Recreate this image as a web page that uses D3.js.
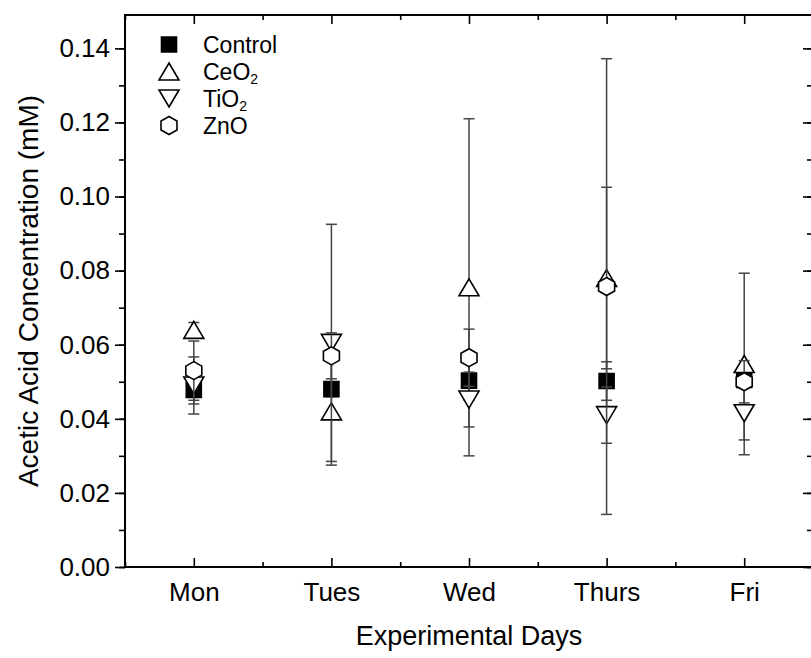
<!DOCTYPE html>
<html>
<head>
<meta charset="utf-8">
<script src="https://cdn.jsdelivr.net/npm/d3@7"></script>
<style>
  html, body { margin: 0; padding: 0; background: #fff; }
  svg { display: block; font-family: "Liberation Sans", Arial, sans-serif; }
</style>
</head>
<body>
<svg id="chart" width="811" height="658"></svg>
<script>
// ---------------- data ----------------
const days = ["Mon", "Tues", "Wed", "Thurs", "Fri"];
const yTicks = [0.00, 0.02, 0.04, 0.06, 0.08, 0.10, 0.12, 0.14];

const control    = [0.0478, 0.0480, 0.0503, 0.0502, 0.0505];
const controlErr = [0.0038, 0.0020, 0.0053, 0.0052, 0.0020];
const ceo2       = [0.0640, 0.0420, 0.0755, 0.0780, 0.0548];
const ceo2Err    = [0.0020, 0.0145, 0.0455, 0.0245, 0.0245];
const tio2       = [0.0490, 0.0605, 0.0452, 0.0410, 0.0415];
const tio2Err    = [0.0077, 0.0320, 0.0074, 0.0076, 0.0072];
const zno        = [0.0530, 0.0570, 0.0565, 0.0757, 0.0500];
const znoErr     = [0.0080, 0.0062, 0.0077, 0.0615, 0.0057];

const seriesNames = ["Control", "CeO2", "TiO2", "ZnO"];

(function () {
const svg = d3.select("#chart");
const mL = 125, mR = 813, mT = 15, mB = 567;

const x = d3.scaleLinear().domain([0.5, days.length + 0.5]).range([mL, mR]);
const y = d3.scaleLinear().domain([0, 0.149]).range([mB, mT]);

const series = [
  { name: seriesNames[0], vals: control, errs: controlErr, shape: "square" },
  { name: seriesNames[1], vals: ceo2,    errs: ceo2Err,    shape: "up" },
  { name: seriesNames[2], vals: tio2,    errs: tio2Err,    shape: "down" },
  { name: seriesNames[3], vals: zno,     errs: znoErr,     shape: "hex" }
];

function shapePath(shape) {
  switch (shape) {
    case "square": return "M-7.5,-7.5H7.5V7.5H-7.5Z";
    case "up":     return "M0,-8.5L10,8.5L-10,8.5Z";
    case "down":   return "M0,8.5L10,-8.5L-10,-8.5Z";
    case "hex":    return "M0,-9L8,-4.5L8,4.5L0,9L-8,4.5L-8,-4.5Z";
  }
}
function shapeFill(shape) { return shape === "square" ? "#000" : "#fff"; }

// ---------------- axes ----------------
const minorY = d3.range(0, 0.1491, 0.01);
const majorX = days.map((d, i) => i + 1);
const minorX = d3.range(0.5, days.length + 0.51, 1);

const gL = svg.append("g").attr("transform", `translate(${mL},0)`);
gL.call(d3.axisLeft(y).tickValues(minorY).tickSize(6).tickSizeOuter(0).tickFormat(""));
gL.call(g => g.select(".domain").remove());
const gL2 = svg.append("g").attr("transform", `translate(${mL},0)`);
gL2.call(d3.axisLeft(y).tickValues(yTicks).tickSize(10).tickSizeOuter(0).tickPadding(5)
  .tickFormat(d3.format(".2f")));
gL2.call(g => g.select(".domain").remove());
gL2.selectAll("text").attr("font-size", 26).attr("fill", "#000")
  .attr("font-family", "Liberation Sans, Arial, sans-serif");

const gR = svg.append("g").attr("transform", `translate(${mR},0)`);
gR.call(d3.axisRight(y).tickValues(minorY).tickSize(-6).tickSizeOuter(0).tickFormat(""));
gR.call(g => g.select(".domain").remove());
const gR2 = svg.append("g").attr("transform", `translate(${mR},0)`);
gR2.call(d3.axisRight(y).tickValues(yTicks).tickSize(-10).tickSizeOuter(0).tickFormat(""));
gR2.call(g => g.select(".domain").remove());

const gB = svg.append("g").attr("transform", `translate(0,${mB})`);
gB.call(d3.axisBottom(x).tickValues(minorX).tickSize(-5).tickSizeOuter(0).tickFormat(""));
gB.call(g => g.select(".domain").remove());
const gB2 = svg.append("g").attr("transform", `translate(0,${mB})`);
gB2.call(d3.axisBottom(x).tickValues(majorX).tickSize(-9).tickSizeOuter(0).tickPadding(16)
  .tickFormat((d) => days[d - 1]));
gB2.call(g => g.select(".domain").remove());
gB2.selectAll("text").attr("font-size", 26).attr("fill", "#000")
  .attr("font-family", "Liberation Sans, Arial, sans-serif");

const gT = svg.append("g").attr("transform", `translate(0,${mT})`);
gT.call(d3.axisTop(x).tickValues(minorX).tickSize(-5).tickSizeOuter(0).tickFormat(""));
gT.call(g => g.select(".domain").remove());
const gT2 = svg.append("g").attr("transform", `translate(0,${mT})`);
gT2.call(d3.axisTop(x).tickValues(majorX).tickSize(-9).tickSizeOuter(0).tickFormat(""));
gT2.call(g => g.select(".domain").remove());

svg.selectAll(".tick line").attr("stroke", "#000").attr("stroke-width", 1.6);

svg.append("rect")
  .attr("x", mL).attr("y", mT)
  .attr("width", mR - mL).attr("height", mB - mT)
  .attr("fill", "none").attr("stroke", "#000").attr("stroke-width", 2);

svg.append("text")
  .attr("x", (mL + mR) / 2).attr("y", 645)
  .attr("text-anchor", "middle").attr("font-size", 27).attr("fill", "#000")
  .text("Experimental Days");
svg.append("text")
  .attr("transform", `translate(38,${(mT + mB) / 2}) rotate(-90)`)
  .attr("text-anchor", "middle").attr("font-size", 28).attr("fill", "#000")
  .text("Acetic Acid Concentration (mM)");

// ---------------- data marks ----------------
const plot = svg.append("g");
series.forEach(s => {
  const g = plot.append("g");
  const pts = s.vals.map((v, i) => ({ i: i + 1, v, e: s.errs[i] }));
  g.selectAll(".eb").data(pts).enter().append("line")
    .attr("x1", d => x(d.i)).attr("x2", d => x(d.i))
    .attr("y1", d => y(d.v + d.e)).attr("y2", d => y(d.v - d.e))
    .attr("stroke", "#444").attr("stroke-width", 1.5);
  [1, -1].forEach(sg => {
    g.selectAll(".cap" + sg).data(pts).enter().append("line")
      .attr("x1", d => x(d.i) - 5.5).attr("x2", d => x(d.i) + 5.5)
      .attr("y1", d => y(d.v + sg * d.e)).attr("y2", d => y(d.v + sg * d.e))
      .attr("stroke", "#444").attr("stroke-width", 1.5);
  });
  g.selectAll(".mk").data(pts).enter().append("path")
    .attr("transform", d => `translate(${x(d.i)},${y(d.v)})`)
    .attr("d", shapePath(s.shape))
    .attr("fill", shapeFill(s.shape))
    .attr("stroke", "#000").attr("stroke-width", 1.6)
    .attr("stroke-linejoin", "miter");
});

// ---------------- legend ----------------
const legend = svg.append("g");
const legY0 = 44.5, legDy = 27;
series.forEach((s, k) => {
  const cy = legY0 + k * legDy;
  legend.append("path")
    .attr("transform", `translate(169,${cy})`)
    .attr("d", shapePath(s.shape))
    .attr("fill", shapeFill(s.shape))
    .attr("stroke", "#000").attr("stroke-width", 1.6);
  const t = legend.append("text")
    .attr("x", 203).attr("y", cy + 8.5)
    .attr("font-size", 23).attr("fill", "#000");
  const m = s.name.match(/^(.*?)(\d)$/);
  if (m) {
    t.append("tspan").text(m[1]);
    t.append("tspan").attr("font-size", 14).attr("dy", 4).text(m[2]);
  } else {
    t.text(s.name);
  }
});
})();
</script>
</body>
</html>
